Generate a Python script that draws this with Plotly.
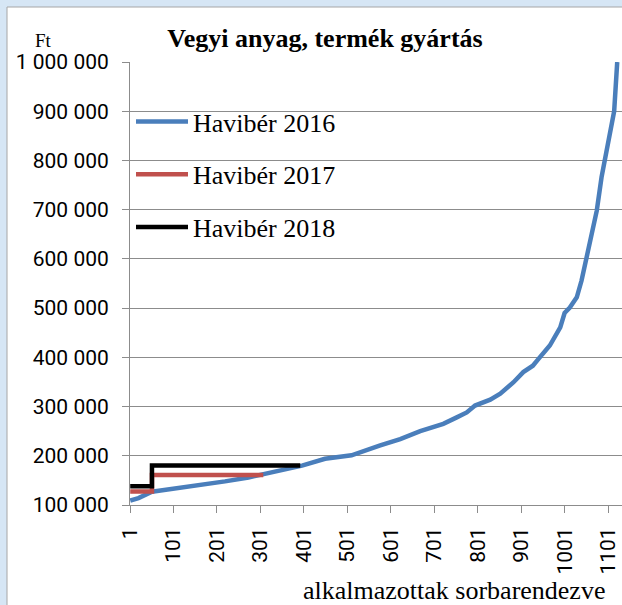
import plotly.graph_objects as go

# ---- data ----
# 2016 monthly wages, employees sorted ascending (rank, Ft)
rank_2016 = [1, 20, 51, 104, 158, 219, 273, 311, 357, 396, 449, 490, 510, 576, 622,
             668, 721, 752, 775, 794, 829, 852, 882, 905, 927, 940, 966, 990, 1000,
             1012, 1028, 1039, 1051, 1062, 1074, 1085, 1093, 1104, 1114, 1121]
wage_2016 = [109000, 114000, 127000, 133000, 139000, 148000, 156000, 164000, 173000,
             180000, 194000, 200000, 201000, 221000, 234000, 250000, 265000, 278000,
             288000, 302000, 314000, 326000, 349000, 370000, 383000, 397000, 424000,
             461000, 490000, 501000, 522000, 556000, 603000, 654000, 698000, 766000,
             800000, 847000, 900000, 1000000]

# 2017 / 2018 minimum wage levels (step start ranks and values)
rank_2017 = [1, 51, 307]
wage_2017 = [127500, 161000, 161000]
rank_2018 = [1, 51, 392]
wage_2018 = [138000, 180500, 180500]

series_names = ["Havibér 2016", "Havibér 2017", "Havibér 2018"]
series_colors = ["#4a7ebb", "#c0504d", "#000000"]

x_tick_labels = ["1", "101", "201", "301", "401", "501", "601", "701", "801", "901", "1001", "1101"]
y_tick_values = [100000, 200000, 300000, 400000, 500000, 600000, 700000, 800000, 900000, 1000000]
y_tick_labels = ["100 000", "200 000", "300 000", "400 000", "500 000", "600 000",
                 "700 000", "800 000", "900 000", "1 000 000"]

title_text = "Vegyi anyag, termék gyártás"
x_title = "alkalmazottak sorbarendezve"
y_unit = "Ft"

# ---- layout geometry (pixels) ----
W, H = 622, 605
L, R, T, B = 130, 0, 62, 100
PW, PH = W - L - R, H - T - B

def px(x):
    return (x - L) / PW

def py(y):
    return (H - B - y) / PH

serif = "Liberation Serif, Times New Roman, serif"
sans = "Roboto, Arial, sans-serif"

fig = go.Figure()
fig.add_trace(go.Scatter(x=rank_2016, y=wage_2016, mode="lines", name=series_names[0],
                         line=dict(color=series_colors[0], width=4.5), legendgroup="a"))
fig.add_trace(go.Scatter(x=rank_2017, y=wage_2017, mode="lines", name=series_names[1],
                         line=dict(color=series_colors[1], width=4.5, shape="hv"), legendgroup="b"))
fig.add_trace(go.Scatter(x=rank_2018, y=wage_2018, mode="lines", name=series_names[2],
                         line=dict(color=series_colors[2], width=4.5, shape="hv"), legendgroup="c"))

fig.update_layout(
    width=W, height=H,
    margin=dict(l=L, r=R, t=T, b=B),
    paper_bgcolor="#d6e6f5",
    plot_bgcolor="white",
    title=dict(text="<b>" + title_text + "</b>", font=dict(family=serif, size=26, color="black"),
               x=325 / W, xanchor="center", y=1 - 38 / H, yanchor="middle", xref="container", yref="container"),
    showlegend=True,
    legend=dict(x=px(131), y=py(98), xanchor="left", yanchor="top",
                bgcolor="rgba(0,0,0,0)", font=dict(family=serif, size=26, color="black"),
                tracegroupgap=16, itemwidth=52),
    xaxis=dict(range=[0.5, 1132], showgrid=False, zeroline=False,
               tickvals=[int(t) - 0.5 for t in x_tick_labels], ticktext=x_tick_labels,
               tickangle=-90, ticks="outside", ticklen=7, tickcolor="#8c8c8c",
               ticklabelstandoff=6,
               showline=True, linecolor="#8c8c8c", linewidth=1,
               tickfont=dict(family=sans, size=21, color="black")),
    yaxis=dict(range=[100000, 1000000], showgrid=True, gridcolor="#8c8c8c", gridwidth=1,
               zeroline=False, tickvals=y_tick_values, ticktext=y_tick_labels,
               ticks="outside", ticklen=7, tickcolor="#8c8c8c",
               ticklabelstandoff=9,
               showline=True, linecolor="#8c8c8c", linewidth=1,
               tickfont=dict(family=sans, size=21, color="black")),
    shapes=[dict(type="rect", xref="paper", yref="paper",
                 x0=px(7), x1=px(660), y0=py(7), y1=py(640),
                 fillcolor="white", line=dict(color="#a6a6a6", width=1), layer="below")],
    annotations=[
        dict(text=y_unit, xref="paper", yref="paper", x=px(43), y=py(40),
             xanchor="center", yanchor="middle", showarrow=False,
             font=dict(family=serif, size=19, color="black")),
        dict(text=x_title, xref="paper", yref="paper", x=px(607), y=py(590),
             xanchor="right", yanchor="middle", showarrow=False,
             font=dict(family=serif, size=26, color="black")),
    ],
)

fig.write_html("out.html", config={"displayModeBar": False},
               post_script="document.body.style.margin='0';document.body.style.overflow='hidden';")
